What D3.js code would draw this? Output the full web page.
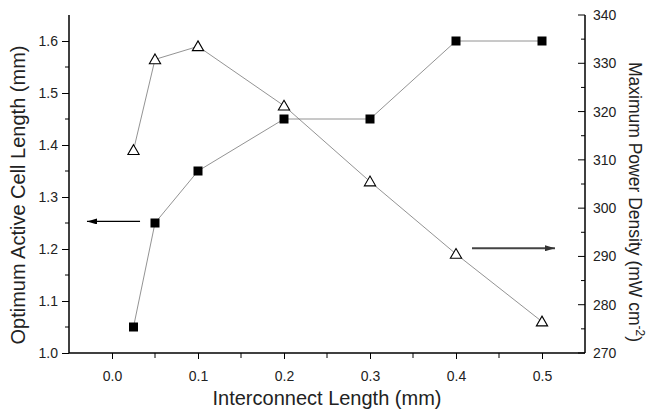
<!DOCTYPE html>
<html>
<head>
<meta charset="utf-8">
<script src="https://cdn.jsdelivr.net/npm/d3@7"></script>
<style>
html,body{margin:0;padding:0;background:#fff;}
svg{display:block;font-family:"Liberation Sans",Arial,sans-serif;}
</style>
</head>
<body>
<svg id="chart" width="650" height="414"></svg>
<script>
// Data
const xValues = [0.025, 0.05, 0.1, 0.2, 0.3, 0.4, 0.5];
const cellLength = [1.05, 1.25, 1.35, 1.45, 1.45, 1.60, 1.60];      // left axis (mm)
const powerDensity = [312.0, 330.8, 333.5, 321.2, 305.5, 290.5, 276.5]; // right axis (mW cm-2)
const xTicks = [0.0, 0.1, 0.2, 0.3, 0.4, 0.5];
const leftTicks = [1.0, 1.1, 1.2, 1.3, 1.4, 1.5, 1.6];
const rightTicks = [270, 280, 290, 300, 310, 320, 330, 340];
// arrows: [x1, y1, x2, y2] in data units
const leftArrow = [0.0326, 1.253, -0.0291, 1.253];
const rightArrow = [0.4186, 291.7, 0.5151, 291.7];

const svg = d3.select("#chart");
const L = 69, R = 585, T = 15, B = 353;

const x = d3.scaleLinear().domain([-0.05, 0.55]).range([L, R]);
const yL = d3.scaleLinear().domain([1.0, 1.65]).range([B, T]);
const yR = d3.scaleLinear().domain([270, 340]).range([B, T]);

const fmt1 = d3.format(".1f");

// X axis
const xAxis = d3.axisBottom(x).tickValues(xTicks).tickFormat(fmt1).tickSize(6).tickPadding(12);
const gx = svg.append("g").attr("transform", `translate(0,${B})`).call(xAxis);
gx.append("g").selectAll("line").data([0.05,0.15,0.25,0.35,0.45]).join("line")
  .attr("x1", d=>x(d)).attr("x2", d=>x(d)).attr("y1",0).attr("y2",5).attr("stroke","#000");

// Left axis
const yAxisL = d3.axisLeft(yL).tickValues(leftTicks).tickFormat(fmt1).tickSize(7).tickPadding(4);
const gyl = svg.append("g").attr("transform", `translate(${L},0)`).call(yAxisL);
gyl.append("g").selectAll("line").data([1.05,1.15,1.25,1.35,1.45,1.55]).join("line")
  .attr("x1",-4).attr("x2",0).attr("y1",d=>yL(d)).attr("y2",d=>yL(d)).attr("stroke","#000");

// Right axis (ticks inward)
const yAxisR = d3.axisRight(yR).tickValues(rightTicks).tickFormat(d3.format("d")).tickSize(0).tickPadding(8);
const gyr = svg.append("g").attr("transform", `translate(${R},0)`).call(yAxisR);
gyr.append("g").selectAll("line").data(rightTicks).join("line")
  .attr("x1",-7).attr("x2",0).attr("y1",d=>yR(d)).attr("y2",d=>yR(d)).attr("stroke","#000");
gyr.append("g").selectAll("line").data([275,285,295,305,315,325,335]).join("line")
  .attr("x1",-4).attr("x2",0).attr("y1",d=>yR(d)).attr("y2",d=>yR(d)).attr("stroke","#000");

[gx, gyl, gyr].forEach(g => {
  g.select(".domain").attr("stroke","#000").attr("stroke-width",1.5);
  g.selectAll(".tick line").attr("stroke","#000");
  g.selectAll(".tick text").attr("font-size",14).attr("fill","#222")
   .attr("font-family","'Liberation Sans',Arial,sans-serif");
});
gx.select(".domain").attr("d", `M${L},0H${R}`);
gyl.select(".domain").attr("d", `M0,${B}V${T}`);
gyr.select(".domain").attr("d", `M0,${B}V${T}`);

// Lines
const lineL = d3.line().x((d,i)=>x(xValues[i])).y(d=>yL(d));
const lineR = d3.line().x((d,i)=>x(xValues[i])).y(d=>yR(d));
svg.append("path").attr("d", lineL(cellLength)).attr("fill","none").attr("stroke","#777").attr("stroke-width",0.8);
svg.append("path").attr("d", lineR(powerDensity)).attr("fill","none").attr("stroke","#777").attr("stroke-width",0.8);

// Square markers
svg.append("g").selectAll("rect").data(cellLength).join("rect")
  .attr("x",(d,i)=>x(xValues[i])-4.5).attr("y",d=>yL(d)-4.5)
  .attr("width",9).attr("height",9).attr("fill","#000");

// Triangle markers
const tri = d3.symbol().type(d3.symbolTriangle).size(55);
svg.append("g").selectAll("path").data(powerDensity).join("path")
  .attr("d", tri)
  .attr("transform",(d,i)=>`translate(${x(xValues[i])},${yR(d)+1})`)
  .attr("fill","#fff").attr("stroke","#000").attr("stroke-width",1.1);

// Arrows
const defs = svg.append("defs");
defs.append("marker").attr("id","ahL").attr("viewBox","0 0 10 6").attr("refX",10).attr("refY",3)
  .attr("markerWidth",10).attr("markerHeight",6).attr("markerUnits","userSpaceOnUse").attr("orient","auto")
  .append("path").attr("d","M0,0L10,3L0,6Z").attr("fill","#000");
defs.append("marker").attr("id","ahR").attr("viewBox","0 0 10 6").attr("refX",10).attr("refY",3)
  .attr("markerWidth",10).attr("markerHeight",6).attr("markerUnits","userSpaceOnUse").attr("orient","auto")
  .append("path").attr("d","M0,0L10,3L0,6Z").attr("fill","#333");

svg.append("line").attr("x1",x(leftArrow[0])).attr("y1",yL(leftArrow[1]))
  .attr("x2",x(leftArrow[2])).attr("y2",yL(leftArrow[3]))
  .attr("stroke","#000").attr("stroke-width",1.2).attr("marker-end","url(#ahL)");
svg.append("line").attr("x1",x(rightArrow[0])).attr("y1",yR(rightArrow[1]))
  .attr("x2",x(rightArrow[2])).attr("y2",yR(rightArrow[3]))
  .attr("stroke","#444").attr("stroke-width",2).attr("marker-end","url(#ahR)");

// Titles
svg.append("text").attr("x",327).attr("y",405).attr("text-anchor","middle")
  .attr("font-size",20).attr("fill","#222").text("Interconnect Length (mm)");
svg.append("text").attr("transform",`translate(25,195) rotate(-90)`).attr("text-anchor","middle")
  .attr("font-size",20).attr("fill","#222").text("Optimum Active Cell Length (mm)");
const rt = svg.append("text").attr("transform",`translate(629,202) rotate(90)`).attr("text-anchor","middle")
  .attr("font-size",17.5).attr("fill","#222");
rt.append("tspan").text("Maximum Power Density (mW cm");
rt.append("tspan").attr("dy",-7).attr("font-size",12).text("-2");
rt.append("tspan").attr("dy",7).text(")");
</script>
</body>
</html>
